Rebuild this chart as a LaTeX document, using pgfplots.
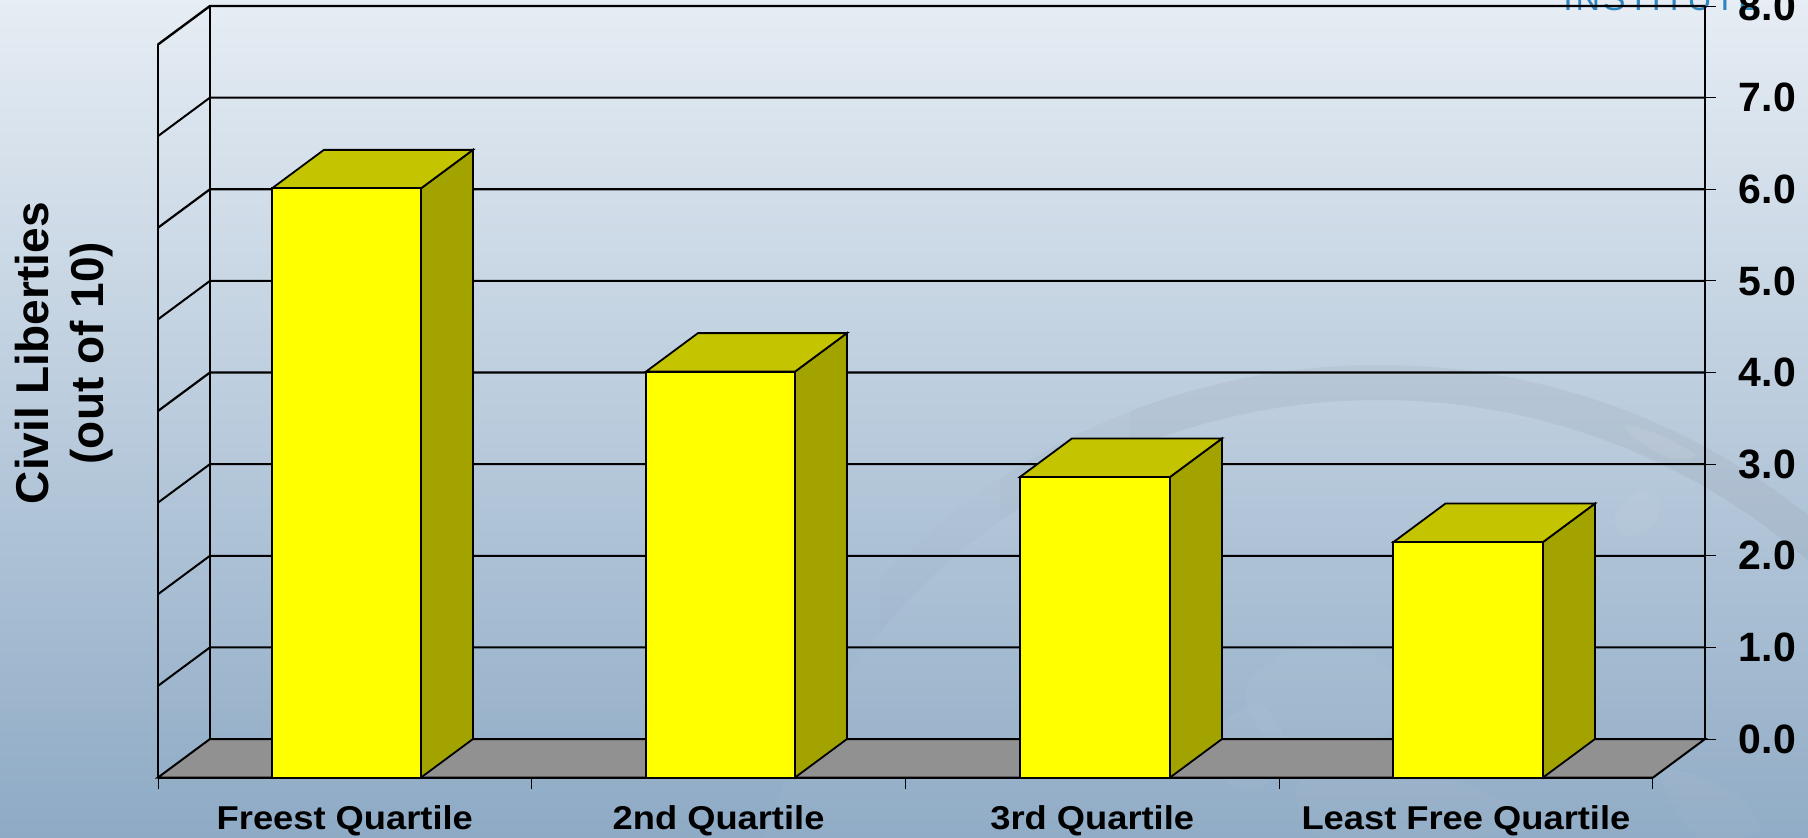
\documentclass[border=0pt]{standalone}
\usepackage{fontspec}
\setmainfont{Liberation Sans}
\newfontfamily\stretched[FakeStretch=1.1]{Liberation Sans}
\newfontfamily\spaced[LetterSpace=8]{Liberation Sans}
\usepackage{pgfplots}
\pgfplotsset{compat=1.18}
\definecolor{barfront}{rgb}{1,1,0}
\definecolor{bartop}{HTML}{C4C400}
\definecolor{barside}{HTML}{A3A300}
\definecolor{floorgray}{HTML}{919191}
\definecolor{bgtop}{HTML}{E6EDF4}
\definecolor{bgbot}{HTML}{8EAAC5}
\definecolor{inst}{HTML}{2E86BE}
\begin{document}
\begin{tikzpicture}
\path[use as bounding box] (0,0) rectangle (904pt,418.5pt);
\clip (0,0) rectangle (904pt,418.5pt);
\shade[top color=bgtop,bottom color=bgbot] (0,0) rectangle (904pt,418.5pt);
% faint globe behind the chart
\begin{scope}[x=0.5pt,y=-0.5pt,yshift=418.5pt]
\begin{scope}
\clip (1130,340) rectangle (1808,660);
\fill[even odd rule,fill=gray,opacity=0.04] (1379,1053) circle (688) (1379,1053) circle (653);
\end{scope}
\begin{scope}
\clip (1000,340) rectangle (1808,660);
\fill[even odd rule,fill=gray,opacity=0.03] (1379,1053) circle (688) (1379,1053) circle (653);
\end{scope}
\begin{scope}
\clip (880,340) rectangle (1808,660);
\fill[even odd rule,fill=gray,opacity=0.02] (1379,1053) circle (688) (1379,1053) circle (653);
\end{scope}
\fill[white,opacity=0.03] (1379,1053) circle (653);
\fill[white,opacity=0.03] plot[smooth cycle] coordinates {(1245,690) (1290,650) (1340,640) (1400,680) (1390,730) (1330,760) (1270,740)};
\fill[white,opacity=0.03] plot[smooth cycle] coordinates {(1215,730) (1260,705) (1285,745) (1260,790) (1225,780)};
\fill[white,opacity=0.04] plot[smooth cycle] coordinates {(1615,515) (1640,490) (1660,505) (1650,530) (1625,535)};
\fill[white,opacity=0.08] plot[smooth cycle] coordinates {(1625,425) (1660,435) (1695,455) (1670,458) (1640,442)};
\fill[white,opacity=0.03] plot[smooth cycle] coordinates {(1300,780) (1400,770) (1480,790) (1530,830) (1330,840)};
\fill[white,opacity=0.03] plot[smooth cycle] coordinates {(1660,770) (1730,790) (1760,830) (1700,840)};
\end{scope}
\node[anchor=base west,inner sep=0,text=inst,font=\spaced\fontsize{17}{17}\selectfont] at (781.5pt,413.2pt) {INSTITUTE};
\begin{axis}[
  at={(79pt,29.75pt)},anchor=south west,
  scale only axis,width=773.5pt,height=385.75pt,
  xmin=-0.5,xmax=3.6397,ymin=0,ymax=8.42,
  clip=false,
  axis line style={draw=none},
  tick style={black,line width=0.5pt},
  xtick={-0.5,0.5,1.5,2.5,3.5},xticklabels={},
  extra x ticks={0,1,2,3},
  extra x tick labels={Freest Quartile,2nd Quartile,3rd Quartile,Least Free Quartile},
  extra x tick style={tick style={draw=none},
    xticklabel style={font=\stretched\bfseries\fontsize{16.5}{18}\selectfont,text=black,anchor=base,yshift=-20.5pt,inner sep=0pt}},
  xtick pos=bottom,
  major tick length=5.5pt,
  tick align=outside,
  ytick pos=right,
  ytick={0.42,1.42,2.42,3.42,4.42,5.42,6.42,7.42,8.42},
  yticklabels={0.0,1.0,2.0,3.0,4.0,5.0,6.0,7.0,8.0},
  /pgf/number format/assume math mode=true,
  yticklabel style={font=\bfseries\fontsize{20.5}{22}\selectfont,anchor=west,inner sep=0pt,xshift=11.2pt},
  every axis y label/.style={at={(axis description cs:-0.0610,0.55)},rotate=90,anchor=center,align=center,
    font=\bfseries\fontsize{23}{27.5}\selectfont},
  ylabel={Civil Liberties\\(out of 10)},
]
% floor
\addplot[fill=floorgray,draw=black,line width=1pt] coordinates {(-0.5,0) (-0.361,0.42) (3.6397,0.42) (3.5007,0)} -- cycle;
% back wall gridlines with their left-wall returns
\addplot[black,line width=1pt] coordinates {(-0.5,1) (-0.361,1.42) (3.6397,1.42)};
\addplot[black,line width=1pt] coordinates {(-0.5,2) (-0.361,2.42) (3.6397,2.42)};
\addplot[black,line width=1pt] coordinates {(-0.5,3) (-0.361,3.42) (3.6397,3.42)};
\addplot[black,line width=1.1pt] coordinates {(-0.5,4) (-0.361,4.42) (3.6397,4.42)};
\addplot[black,line width=1pt] coordinates {(-0.5,5) (-0.361,5.42) (3.6397,5.42)};
\addplot[black,line width=1.1pt] coordinates {(-0.5,6) (-0.361,6.42) (3.6397,6.42)};
\addplot[black,line width=1pt] coordinates {(-0.5,7) (-0.361,7.42) (3.6397,7.42)};
\addplot[black,line width=1.2pt] coordinates {(-0.5,8) (-0.361,8.42) (3.6397,8.42)};
% walls
\addplot[black,line width=0.95pt] coordinates {(-0.5,0) (-0.5,8)};
\addplot[black,line width=1pt] coordinates {(-0.361,0.42) (-0.361,8.42)};
\addplot[black,line width=1pt] coordinates {(3.6397,0.42) (3.6397,8.42)};
% sides
\addplot[fill=barside,draw=black,line width=0.9pt] coordinates {(0.2038,0) (0.3428,0.42) (0.3428,6.85) (0.2038,6.43)} -- cycle;
\addplot[fill=barside,draw=black,line width=0.9pt] coordinates {(1.2046,0) (1.3436,0.42) (1.3436,4.85) (1.2046,4.43)} -- cycle;
\addplot[fill=barside,draw=black,line width=0.9pt] coordinates {(2.2081,0) (2.3471,0.42) (2.3471,3.70) (2.2081,3.28)} -- cycle;
\addplot[fill=barside,draw=black,line width=0.9pt] coordinates {(3.2062,0) (3.3452,0.42) (3.3452,2.99) (3.2062,2.57)} -- cycle;
% tops
\addplot[fill=bartop,draw=black,line width=0.9pt] coordinates {(-0.195,6.43) (-0.056,6.85) (0.3428,6.85) (0.2038,6.43)} -- cycle;
\addplot[fill=bartop,draw=black,line width=0.9pt] coordinates {(0.8059,4.43) (0.9449,4.85) (1.3436,4.85) (1.2046,4.43)} -- cycle;
\addplot[fill=bartop,draw=black,line width=0.9pt] coordinates {(1.8066,3.28) (1.9456,3.70) (2.3471,3.70) (2.2081,3.28)} -- cycle;
\addplot[fill=bartop,draw=black,line width=0.9pt] coordinates {(2.8061,2.57) (2.9451,2.99) (3.3452,2.99) (3.2062,2.57)} -- cycle;
% fronts
\addplot[ybar,bar width=74.75pt,bar shift=0pt,fill=barfront,draw=black,line width=1pt] coordinates {(0.0044,6.43) (1.0052,4.43) (2.0073,3.28) (3.0061,2.57)};
% front floor edge
\addplot[black,line width=1pt] coordinates {(-0.5,0) (3.5007,0)};
\end{axis}
\end{tikzpicture}
\end{document}
